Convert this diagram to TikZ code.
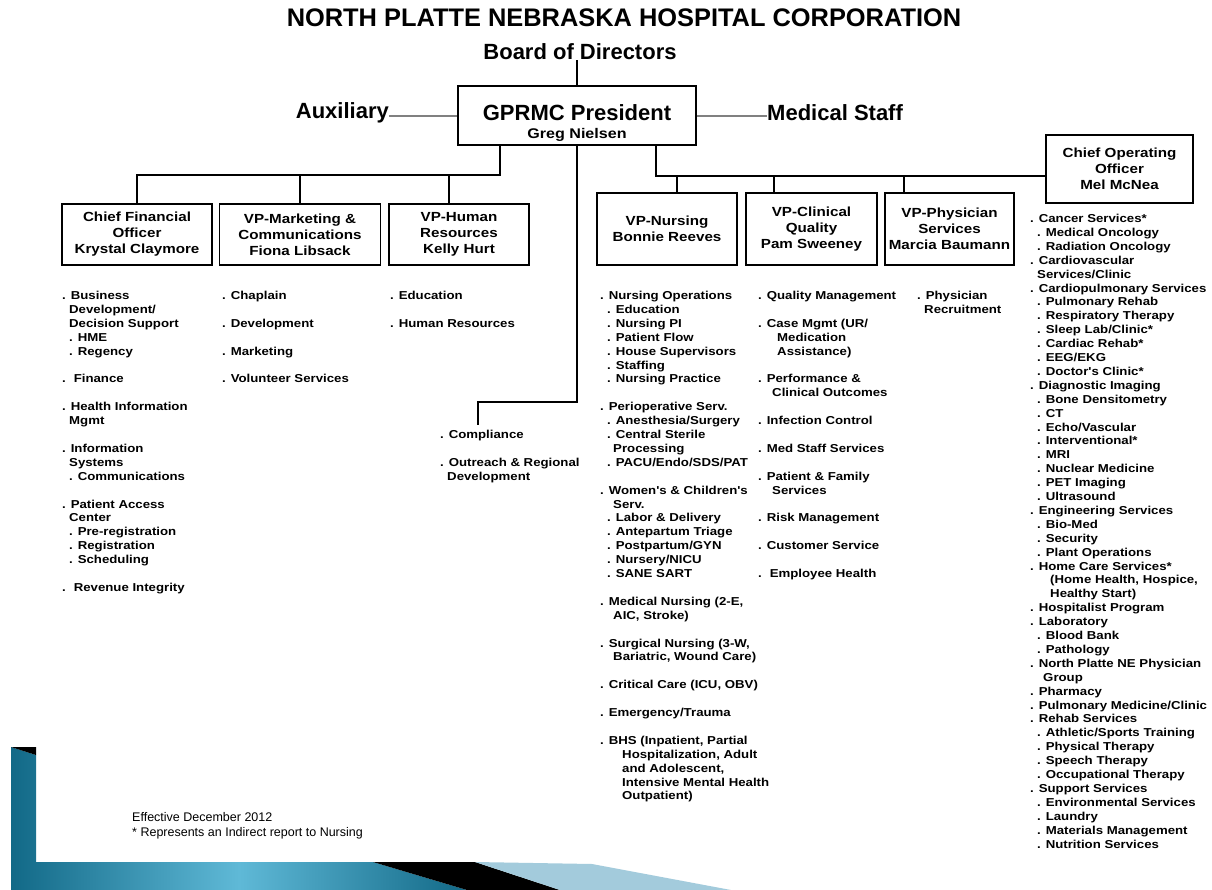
\documentclass[tikz,border=0pt]{standalone}
\usepackage{fontspec}
\setmainfont{Liberation Sans}
\newfontfamily\widesans[FakeStretch=1.15]{Liberation Sans}
\usetikzlibrary{calc}
\definecolor{tealdark} {RGB}{18,105,135}
\definecolor{teallight}{RGB}{95,185,215}
\definecolor{paleblue} {RGB}{163,203,220}
\definecolor{linegray} {RGB}{128,128,128}
\newcommand\listfont{\widesans\bfseries\fontsize{11.5}{13.9}\selectfont}
\newcommand\boxfont{\widesans\bfseries\fontsize{13.2}{16}\selectfont}
\newcommand\tab[1]{\hspace*{#1pt}}
\newcommand\gap{\\[13.9pt]}

\begin{document}
\begin{tikzpicture}[
  x=1pt, y=-1pt,
  box/.style={draw, line width=1.6pt, align=center, font=\boxfont,
              inner sep=0pt, minimum height=61pt},
  vpbox/.style={box, minimum height=72pt},
  list/.style={anchor=north west, align=left, font=\listfont, inner sep=0pt},
  head/.style={font=\bfseries\fontsize{22}{26}\selectfont, inner sep=0pt},
  conn/.style={line width=1.6pt},
  side/.style={draw=linegray, line width=1.8pt},
]
\useasboundingbox (0,0) rectangle (1212,890);
\fill[white] (0,0) rectangle (1212,890);

% Slide corner
\shade[left color=tealdark, right color=tealdark, middle color=teallight]
  (11,747) -- (36,755) -- (36,862) -- (373,862) -- (467,890) -- (11,890) -- cycle;
\fill[black] (11,747) -- (36,747) -- (36,755) -- cycle;
\fill[black] (373,862) -- (475,862) -- (560,890) -- (467,890) -- cycle;
\fill[paleblue] (475,862) -- (592,864) -- (731,890) -- (560,890) -- cycle;

% Heads
\node[font=\bfseries\fontsize{25.4}{28}\selectfont, inner sep=0pt] (title) at (624,18)
  {NORTH PLATTE NEBRASKA HOSPITAL CORPORATION};
\node[head] (board) at (580,52) {Board of Directors};
\node[box, minimum width=238pt, minimum height=59pt,
      font=\bfseries\fontsize{22}{18}\selectfont] (pres) at (577,115.5)
  {\rule{0pt}{31pt}GPRMC President\\{\widesans\fontsize{14}{18}\selectfont Greg Nielsen}};
\node[head, anchor=east] (aux) at (389,113) {Auxiliary};
\node[head, anchor=west] (med) at (767,113) {Medical Staff};

% Left officers
\node[box, minimum width=150pt] (cfo) at (137,234.5) {Chief Financial\\Officer\\Krystal Claymore};
\node[box, minimum width=161pt] (mkt) at (300,234.5) {VP-Marketing \&\\Communications\\Fiona Libsack};
\node[box, minimum width=140pt] (hr)  at (459,234.5) {VP-Human\\Resources\\Kelly Hurt};

% Right officers
\node[vpbox, minimum width=140pt] (nurs) at (667,229) {VP-Nursing\\Bonnie Reeves};
\node[vpbox, minimum width=131pt] (clin) at (811.5,229) {VP-Clinical\\Quality\\Pam Sweeney};
\node[vpbox, minimum width=129pt] (phys) at (949.5,229) {VP-Physician\\Services\\Marcia Baumann};
\node[box, minimum width=147pt, minimum height=68pt] (coo) at (1119.5,169)
  {Chief Operating\\Officer\\Mel McNea};

% Connectors
\draw[conn] (pres.north |- board.south) -- (pres.north);
\draw[side] (aux.east |- 0,116) -- (pres.west |- 0,116);
\draw[side] (pres.east |- 0,116) -- (med.west |- 0,116);

\coordinate (lbus) at (500,175);
\draw[conn] (lbus |- pres.south) -- (lbus) -| (cfo.north);
\draw[conn] (lbus) -| (mkt.north);
\draw[conn] (lbus) -| ([xshift=-10pt]hr.north);

\coordinate (rbus) at (656,176);
\draw[conn] (rbus |- pres.south) -- (rbus) -- (rbus -| coo.west);
\draw[conn] ([xshift=10pt]nurs.north) -- ([xshift=10pt]nurs.north |- rbus);
\draw[conn] ([xshift=-37.5pt]clin.north) -- ([xshift=-37.5pt]clin.north |- rbus);
\draw[conn] ([xshift=-45.5pt]phys.north) -- ([xshift=-45.5pt]phys.north |- rbus);

\coordinate (cbend) at (577,402);
\coordinate (ctop) at (478,425);
\draw[conn] (pres.south) -- (cbend) -| (ctop);

% Lists
\node[list] (cfolist) at (62,291) {%
. Business\\
\tab{7}Development/\\
\tab{7}Decision Support\\
\tab{7}. HME\\
\tab{7}. Regency\gap
. \hspace{3pt}Finance\gap
. Health Information\\
\tab{7}Mgmt\gap
. Information\\
\tab{7}Systems\\
\tab{7}. Communications\gap
. Patient Access\\
\tab{7}Center\\
\tab{7}. Pre-registration\\
\tab{7}. Registration\\
\tab{7}. Scheduling\gap
. \hspace{3pt}Revenue Integrity};

\node[list] (mktlist) at (222,291) {%
. Chaplain\gap
. Development\gap
. Marketing\gap
. Volunteer Services};

\node[list] (hrlist) at (390,291) {%
. Education\gap
. Human Resources};

\node[list] (complist) at (440,430) {%
. Compliance\gap
. Outreach \& Regional\\
\tab{7}Development};

\node[list] (nurslist) at (600,291) {%
. Nursing Operations\\
\tab{7}. Education\\
\tab{7}. Nursing PI\\
\tab{7}. Patient Flow\\
\tab{7}. House Supervisors\\
\tab{7}. Staffing\\
\tab{7}. Nursing Practice\gap
. Perioperative Serv.\\
\tab{7}. Anesthesia/Surgery\\
\tab{7}. Central Sterile\\
\tab{13}Processing\\
\tab{7}. PACU/Endo/SDS/PAT\gap
. Women's \& Children's\\
\tab{13}Serv.\\
\tab{7}. Labor \& Delivery\\
\tab{7}. Antepartum Triage\\
\tab{7}. Postpartum/GYN\\
\tab{7}. Nursery/NICU\\
\tab{7}. SANE SART\gap
. Medical Nursing (2-E,\\
\tab{13}AIC, Stroke)\gap
. Surgical Nursing (3-W,\\
\tab{13}Bariatric, Wound Care)\gap
. Critical Care (ICU, OBV)\gap
. Emergency/Trauma\gap
. BHS (Inpatient, Partial\\
\tab{22}Hospitalization, Adult\\
\tab{22}and Adolescent,\\
\tab{22}Intensive Mental Health\\
\tab{22}Outpatient)};

\node[list] (clinlist) at (758,291) {%
. Quality Management\gap
. Case Mgmt (UR/\\
\tab{19}Medication\\
\tab{19}Assistance)\gap
. Performance \&\\
\tab{14}Clinical Outcomes\gap
. Infection Control\gap
. Med Staff Services\gap
. Patient \& Family\\
\tab{14}Services\gap
. Risk Management\gap
. Customer Service\gap
. \hspace{3pt}Employee Health};

\node[list] (physlist) at (917,291) {%
. Physician\\
\tab{7}Recruitment};

\node[list] (coolist) at (1030,214) {%
. Cancer Services*\\
\tab{7}. Medical Oncology\\
\tab{7}. Radiation Oncology\\
. Cardiovascular\\
\tab{7}Services/Clinic\\
. Cardiopulmonary Services\\
\tab{7}. Pulmonary Rehab\\
\tab{7}. Respiratory Therapy\\
\tab{7}. Sleep Lab/Clinic*\\
\tab{7}. Cardiac Rehab*\\
\tab{7}. EEG/EKG\\
\tab{7}. Doctor's Clinic*\\
. Diagnostic Imaging\\
\tab{7}. Bone Densitometry\\
\tab{7}. CT\\
\tab{7}. Echo/Vascular\\
\tab{7}. Interventional*\\
\tab{7}. MRI\\
\tab{7}. Nuclear Medicine\\
\tab{7}. PET Imaging\\
\tab{7}. Ultrasound\\
. Engineering Services\\
\tab{7}. Bio-Med\\
\tab{7}. Security\\
\tab{7}. Plant Operations\\
. Home Care Services*\\
\tab{20}(Home Health, Hospice,\\
\tab{20}Healthy Start)\\
. Hospitalist Program\\
. Laboratory\\
\tab{7}. Blood Bank\\
\tab{7}. Pathology\\
. North Platte NE Physician\\
\tab{13}Group\\
. Pharmacy\\
. Pulmonary Medicine/Clinic\\
. Rehab Services\\
\tab{7}. Athletic/Sports Training\\
\tab{7}. Physical Therapy\\
\tab{7}. Speech Therapy\\
\tab{7}. Occupational Therapy\\
. Support Services\\
\tab{7}. Environmental Services\\
\tab{7}. Laundry\\
\tab{7}. Materials Management\\
\tab{7}. Nutrition Services};

% Note
\node[anchor=north west, align=left, inner sep=0pt,
      font=\fontsize{12.5}{15}\selectfont] (note) at (132,812)
  {Effective December 2012\\* Represents an Indirect report to Nursing};

\end{tikzpicture}
\end{document}
